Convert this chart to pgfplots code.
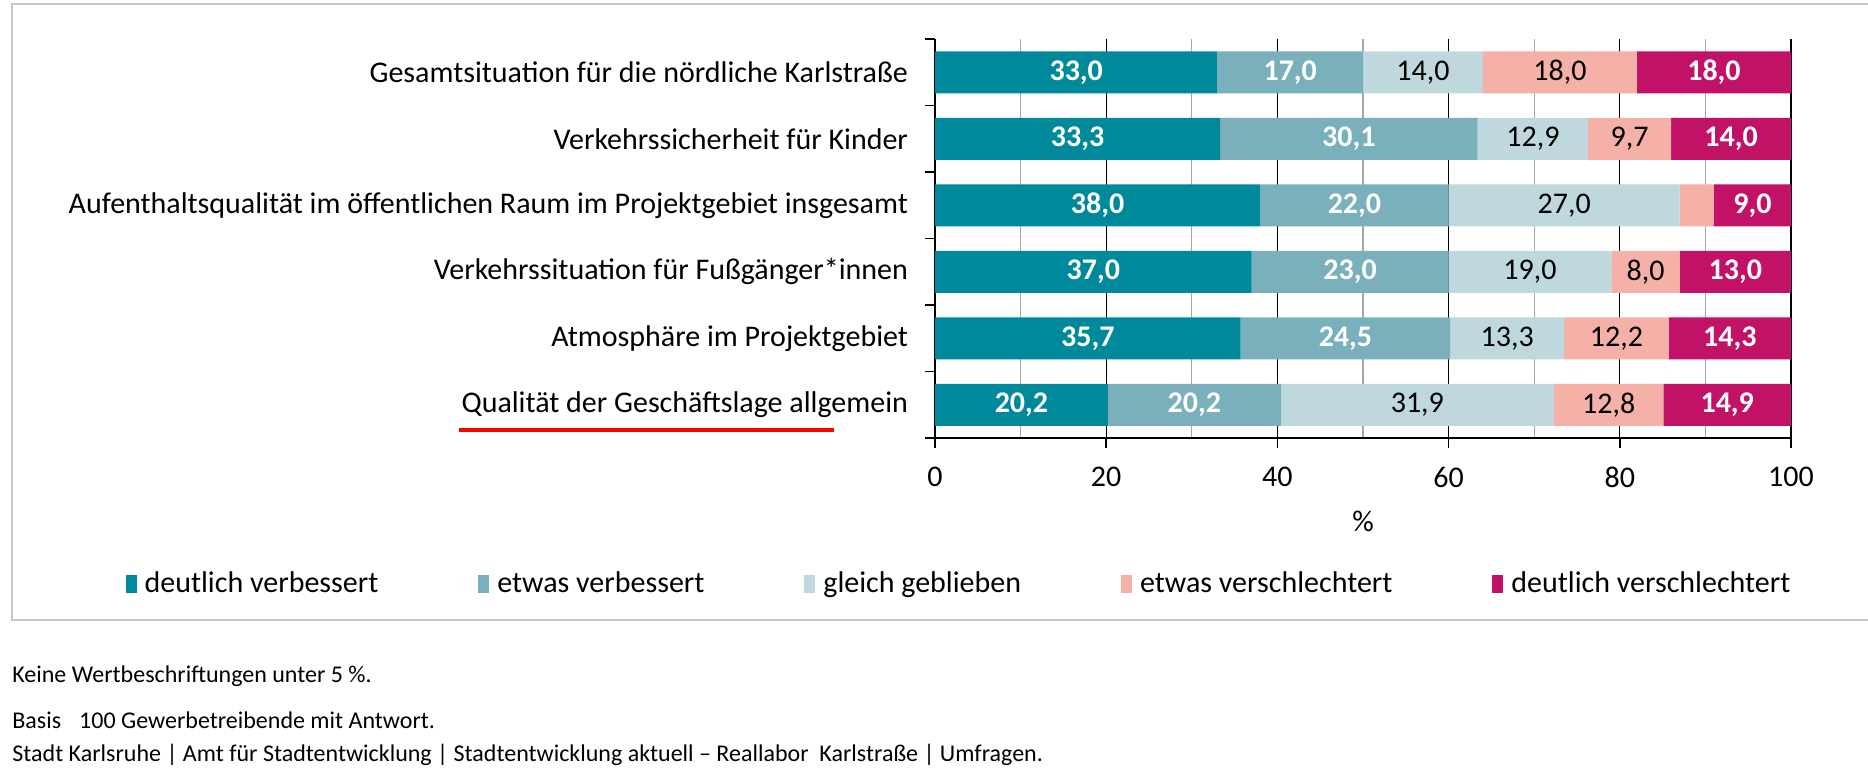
\documentclass[border=0pt]{standalone}
\usepackage{fontspec}
\setmainfont{Carlito}
\setsansfont{Carlito}
\usepackage{pgfplots}
\pgfplotsset{compat=1.18}
\definecolor{tealDark}{HTML}{00899B}
\definecolor{tealMid}{HTML}{7AB0BB}
\definecolor{tealLight}{HTML}{BED8DD}
\definecolor{rosePale}{HTML}{F5B0A8}
\definecolor{magentaDeep}{HTML}{C11267}
\definecolor{frameGrey}{HTML}{C8C8C8}
\newcommand\lab{\fontsize{15}{17}\selectfont}
\newcommand\foot{\fontsize{12}{14}\selectfont}
\pgfplotsset{
  sqleg/.style={legend image code/.code={\fill[##1,draw=none] (0pt,-4.5pt) rectangle (5.5pt,4.5pt);}},
  whitelab/.style={every node near coord/.append style={text=white,font=\lab\bfseries}},
  blacklab/.style={every node near coord/.append style={text=black,font=\lab}},
}

\begin{document}
\begin{tikzpicture}[x=1pt,y=1pt]
\path[use as bounding box] (0,0) rectangle (934,-388.5);
\draw[frameGrey,line width=1pt] (6,-2) rectangle (945,-310);

\begin{axis}[
  at={(467.5pt,-219pt)}, anchor=south west,
  scale only axis, width=428pt, height=199.5pt,
  xbar stacked, bar width=21pt,
  xmin=0, xmax=100, ymin=-0.5, ymax=5.5,
  axis lines*=left,
  axis line style={black,line width=0.8pt},
  xtick={0,20,...,100}, minor x tick num=1,
  xmajorgrids, xminorgrids,
  major grid style={black,line width=0.6pt},
  minor grid style={black!35,line width=0.6pt},
  tick align=outside, major tick length=5pt, minor tick length=0pt,
  tick style={black,line width=0.8pt},
  ytick={-0.5,0.5,...,5.5}, yticklabels={},
  extra y ticks={0,1,2,3,4,5},
  extra y tick labels={Qualität der Geschäftslage allgemein,Atmosphäre im Projektgebiet,Verkehrssituation für Fußgänger*innen,Aufenthaltsqualität im öffentlichen Raum im Projektgebiet insgesamt,Verkehrssicherheit für Kinder,Gesamtsituation für die nördliche Karlstraße},
  extra y tick style={tick style={draw=none}, yticklabel style={font=\lab, xshift=-5pt}},
  xticklabel style={font=\fontsize{15}{16}\selectfont, yshift=-6pt},
  /pgf/number format/assume math mode=true,
  xlabel={\%},
  xlabel style={font=\fontsize{15}{16}\selectfont, at={(axis description cs:0.5,-0.208)}, anchor=center},
  visualization depends on={rawx \as \rawx},
  nodes near coords={\ifdim\rawx pt<5pt\relax\else\pgfmathprintnumber[fixed,fixed zerofill,precision=1,use comma,assume math mode=true]{\rawx}\fi},
  every node near coord/.append style={anchor=center},
  legend columns=5,
  legend style={at={(axis description cs:-0.946,-0.366)}, anchor=west, draw=none, fill=none,
    inner sep=0pt, font=\lab,
    /tikz/every even column/.append style={column sep=48pt},
    /tikz/every odd column/.append style={column sep=2pt}},
]
\addplot[fill=tealDark,draw=none,whitelab,sqleg] coordinates {
  (33.0,5) (33.3,4) (38.0,3) (37.0,2) (35.7,1) (20.2,0)};
\addplot[fill=tealMid,draw=none,whitelab,sqleg] coordinates {
  (17.0,5) (30.1,4) (22.0,3) (23.0,2) (24.5,1) (20.2,0)};
\addplot[fill=tealLight,draw=none,blacklab,sqleg] coordinates {
  (14.0,5) (12.9,4) (27.0,3) (19.0,2) (13.3,1) (31.9,0)};
\addplot[fill=rosePale,draw=none,blacklab,sqleg] coordinates {
  (18.0,5) (9.7,4) (4.0,3) (8.0,2) (12.2,1) (12.8,0)};
\addplot[fill=magentaDeep,draw=none,whitelab,sqleg] coordinates {
  (18.0,5) (14.0,4) (9.0,3) (13.0,2) (14.3,1) (14.9,0)};
\legend{deutlich verbessert,etwas verbessert,gleich geblieben,etwas verschlechtert,deutlich verschlechtert}
\end{axis}

% red underline annotation
\draw[red,line width=2pt] (229.5,-215) -- (417,-215);

\node[anchor=west,font=\foot,inner sep=0pt] at (6,-338) {Keine Wertbeschriftungen unter 5 \%.};
\node[anchor=west,font=\foot,inner sep=0pt] at (6,-360) {Basis\hspace{9pt}100 Gewerbetreibende mit Antwort.};
\node[anchor=west,font=\foot,inner sep=0pt] at (6,-377.5) {Stadt Karlsruhe | Amt für Stadtentwicklung | Stadtentwicklung aktuell – Reallabor\ \ Karlstraße | Umfragen.};
\end{tikzpicture}
\end{document}
